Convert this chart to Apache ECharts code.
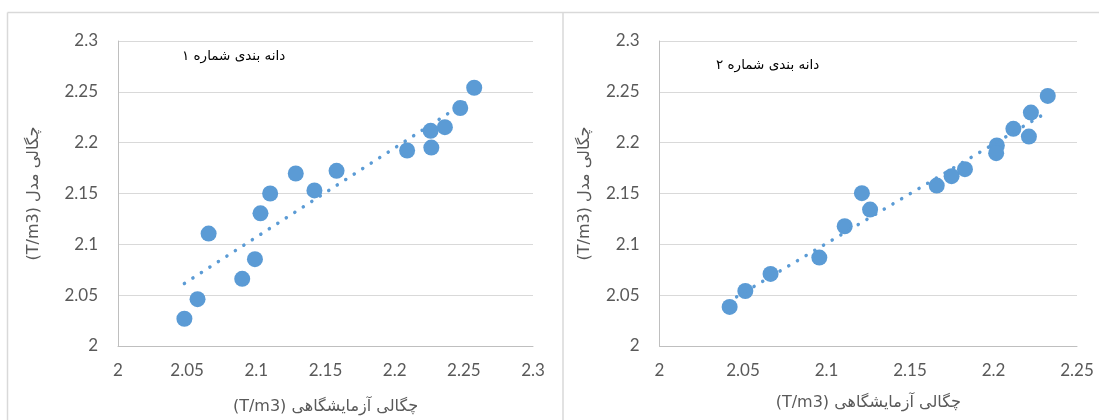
<!DOCTYPE html>
<html><head><meta charset="utf-8">
<script src="https://cdn.jsdelivr.net/npm/echarts@6/dist/echarts.min.js"></script>
<style>html,body{margin:0;padding:0;background:#fff}#c{width:1099px;height:420px}</style>
</head><body><div id="c" dir="rtl"></div>
<script>
// Chart 1 (دانه بندی شماره ۱)
const lab1 = [2.048,2.0575,2.0655,2.0898,2.099,2.103,2.110,2.1285,2.142,2.158,2.209,2.226,2.2265,2.2363,2.2474,2.2575];
const mod1 = [2.0268,2.0461,2.1106,2.0661,2.0854,2.1305,2.150,2.1697,2.153,2.1723,2.1923,2.2116,2.1952,2.2152,2.234,2.254];
const trend1X = [2.048, 2.255];
const trend1Y = [2.0615, 2.243];
// Chart 2 (دانه بندی شماره ۲)
const lab2 = [2.042,2.0514,2.0665,2.0957,2.1109,2.1212,2.1261,2.166,2.1749,2.1829,2.202,2.2016,2.2119,2.2224,2.2212,2.2325];
const mod2 = [2.0384,2.0541,2.0709,2.087,2.1178,2.1503,2.1342,2.1578,2.167,2.1739,2.1972,2.1897,2.2136,2.2296,2.206,2.246];
const trend2X = [2.041, 2.2325];
const trend2Y = [2.0433, 2.2303];
const xTicks1 = [2, 2.05, 2.1, 2.15, 2.2, 2.25, 2.3];
const xTicks2 = [2, 2.05, 2.1, 2.15, 2.2, 2.25];
const yTicks = [2, 2.05, 2.1, 2.15, 2.2, 2.25, 2.3];
const xTitle = 'چگالی آزمایشگاهی (T/m3)';
const yTitle = 'چگالی مدل (T/m3)';
const note1 = 'دانه بندی شماره ۱';
const note2 = 'دانه بندی شماره ۲';

const blue = '#5B9BD5';
const grey = '#d9d9d9';
const labelStyle = {color:'#595959', fontSize:17, fontFamily:'Lato, "Open Sans", sans-serif'};
const nameStyle = {color:'#595959', fontSize:16, fontFamily:'"DejaVu Sans", sans-serif'};

function pairs(xs, ys){ return xs.map((x,i)=>[x, ys[i]]); }
function xAxis(idx, ticks, gap){
  return {type:'value', gridIndex:idx, min:ticks[0], max:ticks[ticks.length-1], interval:0.05,
    axisLine:{show:true, lineStyle:{color:'#bfbfbf', width:1}}, axisTick:{show:false},
    splitLine:{show:false},
    axisLabel:Object.assign({margin:16, formatter:v=>String(+v.toFixed(2))}, labelStyle),
    name:xTitle, nameLocation:'middle', nameGap:gap, nameTextStyle:nameStyle};
}
function yAxis(idx, gap){
  return {type:'value', gridIndex:idx, min:yTicks[0], max:yTicks[yTicks.length-1], interval:0.05,
    axisLine:{show:true, lineStyle:{color:'#bfbfbf', width:1}}, axisTick:{show:false},
    splitLine:{show:true, lineStyle:{color:grey, width:1}},
    axisLabel:Object.assign({margin:20, formatter:v=>String(+v.toFixed(2))}, labelStyle),
    name:yTitle, nameLocation:'middle', nameGap:gap, nameRotate:90, nameTextStyle:nameStyle};
}
const trendStyle = {color:blue, width:3.5, type:[0.1, 10], cap:'round'};
const markStyle = {color:blue, opacity:1};

const chart = echarts.init(document.getElementById('c'), null, {renderer:'canvas'});
chart.setOption({
  animation:false,
  backgroundColor:'#fff',
  grid:[
    {left:118, top:41, width:415, height:306},
    {left:659.5, top:41, width:417.5, height:305}
  ],
  xAxis:[xAxis(0, xTicks1, 53), xAxis(1, xTicks2, 49)],
  yAxis:[yAxis(0, 76), yAxis(1, 67)],
  series:[
    {type:'scatter', xAxisIndex:0, yAxisIndex:0, data:pairs(lab1, mod1), symbolSize:16, itemStyle:markStyle},
    {type:'line', xAxisIndex:0, yAxisIndex:0, data:pairs(trend1X, trend1Y), showSymbol:false, symbol:'none', lineStyle:trendStyle, z:3},
    {type:'scatter', xAxisIndex:1, yAxisIndex:1, data:pairs(lab2, mod2), symbolSize:16, itemStyle:markStyle},
    {type:'line', xAxisIndex:1, yAxisIndex:1, data:pairs(trend2X, trend2Y), showSymbol:false, symbol:'none', lineStyle:trendStyle, z:3}
  ],
  graphic:[
    {type:'line', shape:{x1:7.5, y1:12.5, x2:1099, y2:12.5}, style:{stroke:grey, lineWidth:1.5}, silent:true},
    {type:'line', shape:{x1:7.5, y1:12.5, x2:7.5, y2:420}, style:{stroke:grey, lineWidth:1.5}, silent:true},
    {type:'line', shape:{x1:563, y1:12.5, x2:563, y2:420}, style:{stroke:grey, lineWidth:1.5}, silent:true},
    {type:'text', left:182, top:49, style:{text:note1, fill:'#000', fontSize:13.5, fontFamily:'"DejaVu Sans", sans-serif'}},
    {type:'text', left:716, top:58, style:{text:note2, fill:'#000', fontSize:13.5, fontFamily:'"DejaVu Sans", sans-serif'}}
  ]
});
</script></body></html>
